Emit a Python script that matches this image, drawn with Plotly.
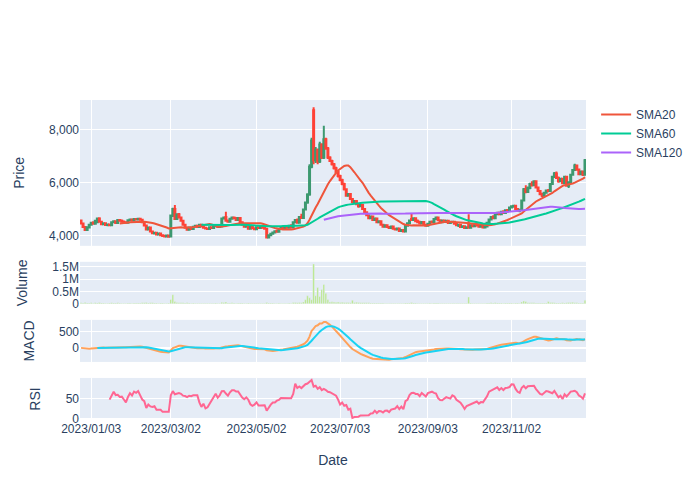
import pandas as pd
import plotly.graph_objects as go
from plotly.subplots import make_subplots

# ---- trading calendar (weekdays minus market holidays) ----
holidays = ["2022-12-30", "2023-01-23", "2023-01-24", "2023-03-01", "2023-05-01",
            "2023-05-05", "2023-05-29", "2023-06-06", "2023-08-15", "2023-09-28",
            "2023-09-29", "2023-10-03"]
all_days = pd.bdate_range("2022-12-26", "2023-12-22")
dates = [d for d in all_days if d.strftime("%Y-%m-%d") not in holidays]

open_ = [
    4560, 4450, 4320, 4200, 4300, 4400, 4480, 4440, 4500, 4640,
    4520, 4420, 4460, 4390, 4410, 4380, 4500, 4540, 4470, 4580,
    4550, 4520, 4500, 4480, 4570, 4600, 4560, 4620, 4600, 4630,
    4590, 4500, 4370, 4220, 4300, 4150, 4080, 4100, 4030, 4070,
    4000, 3980, 3960, 3990, 3960, 4750, 5000, 4620, 4800, 4680,
    4550, 4400, 4290, 4210, 4300, 4240, 4330, 4360, 4320, 4400,
    4340, 4290, 4260, 4240, 4310, 4280, 4350, 4380, 4320, 4340,
    4640, 4700, 4550, 4520, 4630, 4680, 4650, 4580, 4660, 4500,
    4400, 4330, 4380, 4250, 4320, 4270, 4230, 4310, 4280, 4330,
    4290, 4250, 3920, 4000, 4060, 4110, 4160, 4140, 4240, 4290,
    4250, 4310, 4290, 4360, 4300, 4500, 4580, 4480, 4700, 4660,
    4980, 5250, 5550, 6600, 8750, 6850, 7250, 6800, 7450, 6950,
    7650, 7300, 6950, 6820, 6700, 6550, 6400, 6250, 6100, 5950,
    5750, 5500, 5570, 5380, 5260, 5300, 5180, 5100, 5150, 5000,
    4880, 4760, 4650, 4720, 4580, 4640, 4500, 4540, 4400, 4330,
    4380, 4320, 4280, 4340, 4250, 4220, 4260, 4170, 4200, 4150,
    4360, 4460, 4620, 4580, 4650, 4540, 4500, 4450, 4510, 4400,
    4360, 4440, 4520, 4500, 4620, 4680, 4570, 4500, 4560, 4520,
    4550, 4470, 4500, 4520, 4440, 4380, 4400, 4320, 4350, 4280,
    4450, 4290, 4380, 4350, 4410, 4370, 4330, 4390, 4300, 4340,
    4480, 4600, 4700, 4650, 4800, 4860, 4800, 4900, 4850, 4950,
    4920, 5060, 5100, 5120, 5000, 4940, 4970, 5320, 5750, 5650,
    5800, 5950, 5900, 6050, 5820, 5680, 5560, 5500, 5620, 5700,
    5680, 5950, 6220, 6350, 6180, 6050, 6150, 5980, 6220, 5880,
    6020, 6300, 6480, 6650, 6500, 6320, 6420, 6300,
]
high = [
    4600, 4480, 4340, 4330, 4420, 4500, 4540, 4570, 4660, 4690,
    4540, 4480, 4470, 4430, 4450, 4520, 4560, 4570, 4600, 4620,
    4600, 4560, 4540, 4590, 4620, 4630, 4640, 4660, 4650, 4660,
    4600, 4510, 4390, 4320, 4310, 4180, 4120, 4110, 4090, 4080,
    4040, 4020, 4000, 4000, 4780, 5050, 5150, 4820, 4850, 4700,
    4580, 4420, 4310, 4320, 4330, 4350, 4380, 4400, 4420, 4420,
    4380, 4330, 4300, 4330, 4340, 4370, 4400, 4400, 4360, 4660,
    4720, 4900, 4600, 4650, 4700, 4720, 4700, 4680, 4670, 4520,
    4420, 4400, 4400, 4340, 4330, 4300, 4330, 4340, 4350, 4340,
    4300, 4260, 4020, 4080, 4130, 4180, 4220, 4260, 4310, 4300,
    4330, 4350, 4380, 4420, 4520, 4600, 4640, 4720, 4820, 5000,
    5280, 5600, 6700, 7700, 8860, 7350, 7300, 7550, 7500, 8160,
    7700, 7350, 7000, 6870, 6750, 6600, 6450, 6300, 6150, 6000,
    5780, 5600, 5580, 5400, 5330, 5320, 5200, 5180, 5160, 5020,
    4900, 4780, 4750, 4730, 4660, 4650, 4560, 4550, 4420, 4400,
    4400, 4350, 4360, 4350, 4290, 4280, 4270, 4230, 4210, 4380,
    4480, 4580, 4810, 4680, 4660, 4600, 4550, 4530, 4520, 4420,
    4460, 4540, 4560, 4640, 4700, 4690, 4600, 4580, 4600, 4570,
    4560, 4520, 4540, 4530, 4460, 4420, 4410, 4370, 4360, 4340,
    4800, 4400, 4420, 4430, 4440, 4390, 4410, 4400, 4360, 4500,
    4620, 4720, 4760, 4820, 4880, 4900, 4920, 4950, 4980, 5000,
    5080, 5130, 5160, 5140, 5020, 5000, 5350, 5800, 5900, 5850,
    6000, 6050, 6080, 6070, 5850, 5720, 5620, 5640, 5720, 5760,
    5980, 6250, 6400, 6420, 6230, 6180, 6160, 6250, 6240, 6050,
    6320, 6520, 6720, 6680, 6520, 6460, 6450, 6900,
]
low = [
    4430, 4300, 4170, 4180, 4280, 4380, 4420, 4430, 4490, 4500,
    4400, 4380, 4370, 4350, 4360, 4370, 4470, 4450, 4460, 4520,
    4500, 4480, 4460, 4470, 4540, 4540, 4550, 4580, 4560, 4570,
    4480, 4350, 4200, 4200, 4120, 4050, 4030, 4010, 4000, 3980,
    3950, 3940, 3920, 3930, 3950, 4700, 4580, 4600, 4650, 4520,
    4380, 4260, 4180, 4200, 4220, 4230, 4290, 4300, 4310, 4320,
    4270, 4240, 4220, 4230, 4260, 4270, 4320, 4300, 4280, 4330,
    4600, 4520, 4480, 4510, 4600, 4620, 4560, 4570, 4480, 4380,
    4300, 4320, 4230, 4240, 4240, 4200, 4220, 4260, 4270, 4270,
    4230, 3880, 3900, 3980, 4040, 4080, 4120, 4130, 4200, 4220,
    4240, 4260, 4280, 4280, 4290, 4480, 4460, 4470, 4640, 4650,
    4950, 5200, 5500, 6550, 6700, 6750, 6700, 6750, 6900, 6900,
    7250, 6900, 6780, 6650, 6500, 6350, 6200, 6050, 5900, 5700,
    5480, 5480, 5350, 5220, 5200, 5150, 5050, 5080, 4980, 4850,
    4740, 4620, 4640, 4560, 4570, 4480, 4460, 4380, 4300, 4310,
    4300, 4250, 4270, 4230, 4200, 4180, 4150, 4130, 4110, 4140,
    4340, 4440, 4560, 4560, 4520, 4480, 4420, 4440, 4380, 4330,
    4350, 4420, 4480, 4490, 4600, 4550, 4480, 4490, 4480, 4470,
    4450, 4440, 4460, 4420, 4350, 4320, 4300, 4290, 4260, 4250,
    4260, 4280, 4330, 4340, 4340, 4300, 4320, 4280, 4260, 4330,
    4460, 4580, 4620, 4640, 4760, 4780, 4790, 4820, 4840, 4880,
    4910, 5020, 5050, 4980, 4900, 4880, 4960, 5300, 5600, 5620,
    5750, 5850, 5880, 5800, 5650, 5520, 5460, 5480, 5580, 5640,
    5670, 5930, 6180, 6150, 6000, 6030, 5950, 5960, 5850, 5800,
    6000, 6280, 6450, 6450, 6280, 6300, 6250, 6280,
]
close = [
    4450, 4320, 4200, 4310, 4400, 4480, 4440, 4550, 4640, 4520,
    4420, 4460, 4390, 4410, 4380, 4500, 4540, 4470, 4580, 4550,
    4520, 4500, 4480, 4570, 4600, 4560, 4620, 4600, 4630, 4590,
    4500, 4370, 4220, 4300, 4150, 4080, 4100, 4030, 4070, 4000,
    3980, 3960, 3990, 3950, 4750, 5000, 4620, 4800, 4680, 4550,
    4400, 4290, 4210, 4300, 4240, 4330, 4360, 4320, 4400, 4340,
    4290, 4260, 4240, 4310, 4280, 4350, 4380, 4320, 4340, 4640,
    4680, 4550, 4520, 4630, 4680, 4650, 4580, 4660, 4500, 4400,
    4330, 4380, 4250, 4320, 4270, 4230, 4310, 4280, 4330, 4290,
    4250, 3920, 4000, 4060, 4110, 4160, 4140, 4240, 4290, 4250,
    4310, 4290, 4360, 4300, 4500, 4580, 4480, 4700, 4660, 4980,
    5250, 5550, 6600, 7600, 6850, 7250, 6800, 7450, 6950, 7650,
    7300, 6950, 6820, 6700, 6550, 6400, 6250, 6100, 5950, 5750,
    5500, 5570, 5380, 5260, 5300, 5180, 5100, 5150, 5000, 4880,
    4760, 4650, 4720, 4580, 4640, 4500, 4540, 4400, 4330, 4380,
    4320, 4280, 4340, 4250, 4220, 4260, 4170, 4200, 4150, 4360,
    4460, 4560, 4580, 4650, 4540, 4500, 4450, 4510, 4400, 4360,
    4440, 4520, 4500, 4620, 4680, 4570, 4500, 4560, 4520, 4550,
    4470, 4500, 4520, 4440, 4380, 4400, 4320, 4350, 4280, 4310,
    4290, 4380, 4350, 4410, 4370, 4330, 4390, 4300, 4340, 4480,
    4600, 4700, 4650, 4800, 4860, 4800, 4900, 4850, 4950, 4920,
    5060, 5100, 5120, 5000, 4940, 4970, 5320, 5750, 5650, 5800,
    5950, 5900, 6050, 5820, 5680, 5560, 5500, 5620, 5700, 5680,
    5950, 6220, 6350, 6180, 6050, 6150, 5980, 6220, 5880, 6020,
    6300, 6480, 6650, 6500, 6320, 6420, 6300, 6850,
]
volume_thousands = [
    45, 38, 52, 40, 35, 42, 30, 44, 36, 58,
    40, 33, 30, 28, 31, 45, 37, 34, 41, 36,
    30, 27, 25, 35, 38, 30, 40, 33, 36, 31,
    42, 50, 55, 40, 48, 44, 32, 35, 30, 33,
    31, 28, 30, 35, 180, 375, 100, 60, 50, 45,
    48, 40, 42, 35, 30, 33, 28, 25, 30, 27,
    26, 28, 30, 27, 25, 29, 31, 26, 28, 70,
    55, 80, 40, 38, 42, 35, 30, 33, 36, 34,
    30, 28, 35, 27, 25, 30, 26, 24, 27, 25,
    28, 60, 40, 35, 32, 30, 28, 31, 30, 27,
    30, 28, 33, 30, 55, 60, 50, 60, 50, 80,
    170, 330, 250, 170, 1625, 330, 670, 300, 580, 790,
    430, 180, 80, 85, 75, 70, 80, 60, 65, 55,
    60, 55, 50, 150, 60, 70, 55, 45, 50, 48,
    45, 42, 40, 38, 36, 35, 33, 34, 32, 30,
    30, 28, 27, 29, 26, 25, 28, 30, 27, 40,
    35, 38, 55, 38, 33, 30, 28, 26, 29, 27,
    30, 33, 28, 36, 40, 32, 30, 27, 25, 26,
    28, 25, 27, 29, 26, 24, 27, 25, 28, 26,
    280, 40, 30, 28, 26, 27, 25, 28, 26, 35,
    40, 42, 35, 45, 40, 33, 36, 30, 34, 31,
    38, 35, 30, 33, 31, 28, 80, 120, 100, 45,
    50, 42, 45, 40, 38, 36, 34, 35, 33, 100,
    60, 55, 45, 40, 38, 36, 42, 40, 45, 60,
    55, 65, 45, 42, 40, 40, 40, 150,
]
# tick positions (a Sunday tick on a break-compressed axis sits at the preceding Friday)
tick_dates = ["2023-01-03", "2023-03-02", "2023-05-02", "2023-07-03", "2023-09-01", "2023-11-02"]
tick_labels = ["2023/01/03", "2023/03/02", "2023/05/02", "2023/07/03", "2023/09/03", "2023/11/02"]

# ---- indicators derived from the closes ----
c = pd.Series(close, index=dates, dtype=float)
sma20 = c.rolling(20).mean()
sma60 = c.rolling(60).mean()
sma120 = c.rolling(120).mean()
ema12 = c.ewm(span=12, adjust=False).mean()
ema26 = c.ewm(span=26, adjust=False).mean()
macd = ema12 - ema26
signal = macd.ewm(span=9, adjust=False, min_periods=9).mean()
delta = c.diff()
gain = delta.clip(lower=0).rolling(14).mean()
loss = (-delta.clip(upper=0)).rolling(14).mean()
rsi = 100 - 100 / (1 + gain / loss)
volume = [v * 1000 for v in volume_thousands]

fig = make_subplots(rows=4, cols=1, shared_xaxes=True, vertical_spacing=0.05,
                    row_heights=[0.52, 0.15, 0.15, 0.15])

fig.add_trace(go.Candlestick(x=dates, open=open_, high=high, low=low, close=close,
                             showlegend=False, name="Price"), row=1, col=1)
fig.add_trace(go.Scatter(x=dates, y=sma20, mode="lines", name="SMA20",
                         line=dict(color="#EF553B", width=2)), row=1, col=1)
fig.add_trace(go.Scatter(x=dates, y=sma60, mode="lines", name="SMA60",
                         line=dict(color="#00CC96", width=2)), row=1, col=1)
fig.add_trace(go.Scatter(x=dates, y=sma120, mode="lines", name="SMA120",
                         line=dict(color="#AB63FA", width=2)), row=1, col=1)
fig.add_trace(go.Bar(x=dates, y=volume, marker_color="#B6E880", showlegend=False,
                     name="Volume"), row=2, col=1)
fig.add_trace(go.Scatter(x=dates, y=macd, mode="lines", showlegend=False, name="MACD",
                         line=dict(color="#FFA15A", width=2)), row=3, col=1)
fig.add_trace(go.Scatter(x=dates, y=signal, mode="lines", showlegend=False, name="Signal",
                         line=dict(color="#19D3F3", width=2)), row=3, col=1)
fig.add_trace(go.Scatter(x=dates, y=rsi, mode="lines", showlegend=False, name="RSI",
                         line=dict(color="#FF6692", width=2)), row=4, col=1)

fig.update_xaxes(rangeslider_visible=False,
                 rangebreaks=[dict(bounds=["sat", "mon"]), dict(values=holidays)],
                 tickmode="array", tickvals=tick_dates, ticktext=tick_labels)
fig.update_xaxes(title_text="Date", title_standoff=20, row=4, col=1)
fig.update_yaxes(title_standoff=21)
fig.update_yaxes(title_text="Price", tickformat=",", row=1, col=1)
fig.update_yaxes(title_text="Volume", row=2, col=1)
fig.update_yaxes(title_text="MACD", row=3, col=1)
fig.update_yaxes(title_text="RSI", row=4, col=1)
fig.update_layout(template="plotly", width=700, height=500, font=dict(family="Arial"))

fig.write_html("out.html", config={"displayModeBar": False},
               post_script="document.body.style.margin='0';")
